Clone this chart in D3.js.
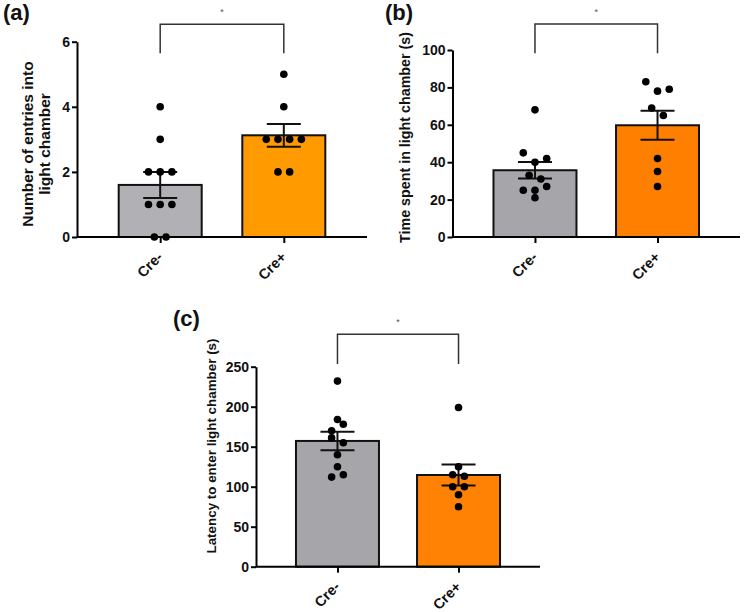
<!DOCTYPE html>
<html>
<head>
<meta charset="utf-8">
<script src="https://cdn.jsdelivr.net/npm/d3@7"></script>
<style>
  body { margin: 0; background: #fff; }
  text { font-family: "Liberation Sans", Arial, sans-serif; font-weight: bold; }
</style>
</head>
<body>
<div id="chart"></div>
<script>
// data (one value per animal)
const groups = ["Cre-", "Cre+"];
const entriesCreMinus = [4, 3, 2, 2, 2, 1, 1, 1, 0, 0];
const entriesCrePlus = [5, 4, 3, 3, 3, 3, 2, 2];
const timeCreMinus = [68, 45, 40, 42, 33, 31, 25, 21, 25, 27];
const timeCrePlus = [83, 78, 79, 69, 65, 42, 35, 27];
const latencyCreMinus = [232, 184, 170, 178, 161, 155, 140, 125, 112, 115];
const latencyCrePlus = [199, 125, 115, 113, 100, 100, 90, 75];
const ticksA = [0, 2, 4, 6];
const ticksB = [0, 20, 40, 60, 80, 100];
const ticksC = [0, 50, 100, 150, 200, 250];
const panelLabels = ["(a)", "(b)", "(c)"];
const yTitles = [["Number of entries into", "light chamber"], ["Time spent in light chamber (s)"], ["Latency to enter light chamber (s)"]];
const sigLabels = ["*", "*", "*"];

const svg = d3.select("#chart").append("svg")
  .attr("width", 744)
  .attr("height", 612);

const panels = [
  { data: [entriesCreMinus, entriesCrePlus], ticks: ticksA, x0: 77, x1: 367, yBase: 237, yTop: 41.7,
    colors: ["#b1b1b5", "#ff9a00"], label: [3, 20], titleX: [32.7, 49.5], titleY: 144, titleSize: 15.5,
    brTop: 24.3, brLeg: 53.3, starY: 15 },
  { data: [timeCreMinus, timeCrePlus], ticks: ticksB, x0: 452.5, x1: 740, yBase: 237, yTop: 50,
    colors: ["#a5a5aa", "#ff8000"], label: [385, 20], titleX: [410], titleY: 137.5, titleSize: 14.3,
    brTop: 24, brLeg: 53.3, starY: 15 },
  { data: [latencyCreMinus, latencyCrePlus], ticks: ticksC, x0: 256, x1: 540, yBase: 566.7, yTop: 366.7,
    colors: ["#a6a6aa", "#ff8205"], label: [173, 326], titleX: [216], titleY: 446, titleSize: 13.4,
    brTop: 334.3, brLeg: 364, starY: 325 }
];

// Prism-like scatter: points binned in rows, each row centred on the bar
function swarm(values, y, cx, unit) {
  const rows = d3.group(values.map(v => ({ v: v, py: y(v) })),
    d => Math.floor((y(0) - d.py - 4.2) / unit));
  const pts = [];
  rows.forEach(row => row.forEach((d, k) => {
    pts.push({ py: d.py, px: cx + (k - (row.length - 1) / 2) * unit });
  }));
  return pts;
}

panels.forEach((p, pi) => {
  const g = svg.append("g");
  const x = d3.scalePoint().domain(groups).range([p.x0, p.x1]).padding(0.673);
  const y = d3.scaleLinear().domain([0, d3.max(p.ticks)]).range([p.yBase, p.yTop]);
  const barW = 83;

  const stats = p.data.map((vals, i) => {
    const m = d3.mean(vals);
    const sem = d3.deviation(vals) / Math.sqrt(vals.length);
    return { g: groups[i], mean: m, sem: sem, vals: vals };
  });

  g.selectAll(".bar").data(stats).join("rect")
    .attr("x", d => x(d.g) - barW / 2)
    .attr("y", d => y(d.mean))
    .attr("width", barW)
    .attr("height", d => y(0) - y(d.mean))
    .attr("fill", (d, i) => p.colors[i])
    .attr("stroke", "#111")
    .attr("stroke-width", 2);

  // error bars (mean ± SEM)
  const eb = g.selectAll(".err").data(stats).join("g").attr("stroke", "#111").attr("stroke-width", 2);
  eb.append("line")
    .attr("x1", d => x(d.g)).attr("x2", d => x(d.g))
    .attr("y1", d => y(d.mean - d.sem)).attr("y2", d => y(d.mean + d.sem));
  eb.append("line")
    .attr("x1", d => x(d.g) - 17).attr("x2", d => x(d.g) + 17)
    .attr("y1", d => y(d.mean + d.sem)).attr("y2", d => y(d.mean + d.sem));
  eb.append("line")
    .attr("x1", d => x(d.g) - 17).attr("x2", d => x(d.g) + 17)
    .attr("y1", d => y(d.mean - d.sem)).attr("y2", d => y(d.mean - d.sem));

  stats.forEach(d => {
    g.append("g").selectAll("circle").data(swarm(d.vals, y, x(d.g), 11.7)).join("circle")
      .attr("cx", q => q.px)
      .attr("cy", q => q.py)
      .attr("r", 3.8)
      .attr("fill", "#000");
  });

  // axes
  const ya = g.append("g").attr("transform", `translate(${p.x0},0)`)
    .call(d3.axisLeft(y).tickValues(p.ticks).tickFormat(d3.format("d"))
      .tickSize(5).tickSizeOuter(0).tickPadding(2));
  ya.select(".domain").attr("stroke-width", 2);
  ya.selectAll(".tick line").attr("stroke-width", 2);
  ya.selectAll(".tick text").attr("font-size", 14).attr("fill", "#111")
    .style("font-family", "'Liberation Sans', Arial, sans-serif").style("font-weight", "bold");

  const xa = g.append("g").attr("transform", `translate(0,${p.yBase})`)
    .call(d3.axisBottom(x).tickSize(6).tickSizeOuter(0));
  xa.select(".domain").attr("stroke-width", 2).attr("d", `M${p.x0},0H${p.x1}`);
  xa.selectAll(".tick line").attr("stroke-width", 2);
  xa.selectAll(".tick text")
    .attr("text-anchor", "end")
    .attr("font-size", 14.5)
    .attr("fill", "#111")
    .attr("y", 0).attr("dy", 0)
    .attr("transform", "translate(3,21) rotate(-45)")
    .style("font-family", "'Liberation Sans', Arial, sans-serif").style("font-weight", "bold");

  // y title
  const tt = g.append("text")
    .attr("transform", `translate(0,${p.titleY}) rotate(-90)`)
    .attr("text-anchor", "middle")
    .attr("font-size", p.titleSize)
    .attr("fill", "#111");
  yTitles[pi].forEach((line, li) => {
    tt.append("tspan").attr("x", 0).attr("y", p.titleX[li]).text(line);
  });

  // panel letter
  g.append("text")
    .attr("x", p.label[0]).attr("y", p.label[1])
    .attr("font-size", 22)
    .attr("fill", "#111")
    .text(panelLabels[pi]);

  // significance bracket
  g.append("path")
    .attr("d", `M${x(groups[0])},${p.brLeg}V${p.brTop}H${x(groups[1])}V${p.brLeg}`)
    .attr("fill", "none")
    .attr("stroke", "#333")
    .attr("stroke-width", 1.5);
  g.append("text")
    .attr("x", (x(groups[0]) + x(groups[1])) / 2)
    .attr("y", p.starY)
    .attr("text-anchor", "middle")
    .attr("font-size", 9)
    .style("font-weight", "normal")
    .attr("fill", "#555")
    .text(sigLabels[pi]);
});
</script>
</body>
</html>
